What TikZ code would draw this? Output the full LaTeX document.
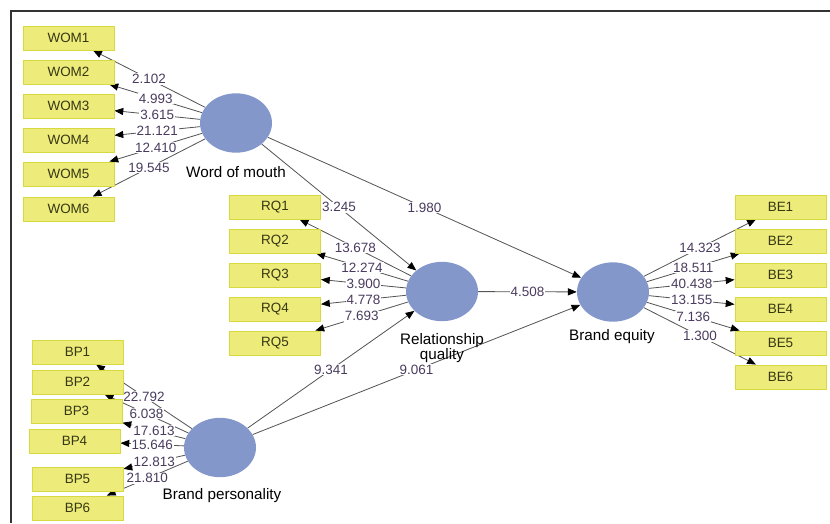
\documentclass[tikz,border=0pt]{standalone}
\usepackage{fontspec}
\setmainfont{Liberation Sans}
\usetikzlibrary{arrows.meta,shapes.geometric,backgrounds}
\definecolor{boxfill}{RGB}{237,236,122}
\definecolor{boxline}{RGB}{216,216,64}
\definecolor{boxtext}{RGB}{55,55,20}
\definecolor{latent}{RGB}{132,151,203}
\definecolor{coef}{RGB}{74,59,94}
\definecolor{edgegray}{RGB}{85,85,85}
\tikzset{
    item/.style={draw=boxline, fill=boxfill, line width=0.8pt, minimum width=2.73cm,
                 minimum height=0.72cm, inner sep=0pt, text=boxtext,
                 font=\fontsize{11.5}{12}\selectfont},
    construct/.style={ellipse, fill=latent, minimum width=2.16cm,
                      minimum height=1.78cm, inner sep=0pt},
    link/.style={-{Triangle[length=7.5pt,width=6pt,color=black]}, line width=0.7pt,
                 draw=edgegray},
    value/.style={fill=white, text=coef, inner sep=0.8pt,
                  font=\fontsize{11.5}{12}\selectfont},
    cname/.style={font=\fontsize{13}{10.5}\selectfont, align=center},
    frame/.style={line width=1.2pt, draw=black!80},
}
\begin{document}
\begin{tikzpicture}[x=0.03cm, y=-0.03cm]
    \useasboundingbox (0,0) rectangle (830,523);
    \draw[frame] (11,523) -- (11,11) -- (830,11);

    % constructs
    \node[construct] (wom) at (236,123) {};
    \node[construct] (rq) at (442,291.5) {};
    \node[construct] (be) at (613,292) {};
    \node[construct] (bp) at (220,447.5) {};
    \node[cname] (womname) at (236,172) {Word of mouth};
    \node[cname] (rqname) at (442,348) {Relationship\\quality};
    \node[cname] (bename) at (612,337) {Brand equity};
    \node[cname] (bpname) at (222,496) {Brand personality};

    % indicators
    \node[item] (wom1) at (68.5,38) {WOM1};
    \node[item] (wom2) at (68.5,72) {WOM2};
    \node[item] (wom3) at (68.5,106) {WOM3};
    \node[item] (wom4) at (68.5,140) {WOM4};
    \node[item] (wom5) at (68.5,174) {WOM5};
    \node[item] (wom6) at (68.5,209) {WOM6};

    \node[item] (rq1) at (275,207) {RQ1};
    \node[item] (rq2) at (275,241) {RQ2};
    \node[item] (rq3) at (275,275) {RQ3};
    \node[item] (rq4) at (275,309) {RQ4};
    \node[item] (rq5) at (275,343) {RQ5};

    \node[item] (be1) at (780.5,207) {BE1};
    \node[item] (be2) at (780.5,241) {BE2};
    \node[item] (be3) at (780.5,275) {BE3};
    \node[item] (be4) at (780.5,309) {BE4};
    \node[item] (be5) at (780.5,343) {BE5};
    \node[item] (be6) at (780.5,377) {BE6};

    \node[item] (bp1) at (77.5,352) {BP1};
    \node[item] (bp2) at (77.5,382) {BP2};
    \node[item] (bp3) at (76.5,411) {BP3};
    \node[item] (bp4) at (74.5,441) {BP4};
    \node[item] (bp5) at (77.5,479) {BP5};
    \node[item] (bp6) at (77.5,508) {BP6};

    \begin{scope}[on background layer]
    % loadings
    \draw[link] (wom) -- node[value] {2.102} (wom1);
    \draw[link] (wom) -- node[value] {4.993} (wom2);
    \draw[link] (wom) -- node[value] {3.615} (wom3);
    \draw[link] (wom) -- node[value] {21.121} (wom4);
    \draw[link] (wom) -- node[value] {12.410} (wom5);
    \draw[link] (wom) -- node[value] {19.545} (wom6);

    \draw[link] (rq) -- node[value] {13.678} (rq1);
    \draw[link] (rq) -- node[value] {12.274} (rq2);
    \draw[link] (rq) -- node[value] {3.900} (rq3);
    \draw[link] (rq) -- node[value] {4.778} (rq4);
    \draw[link] (rq) -- node[value] {7.693} (rq5);

    \draw[link] (be) -- node[value] {14.323} (be1);
    \draw[link] (be) -- node[value] {18.511} (be2);
    \draw[link] (be) -- node[value] {40.438} (be3);
    \draw[link] (be) -- node[value] {13.155} (be4);
    \draw[link] (be) -- node[value] {7.136} (be5);
    \draw[link] (be) -- node[value] {1.300} (be6);

    \draw[link] (bp) -- node[value] {22.792} (bp1);
    \draw[link] (bp) -- node[value] {6.038} (bp2);
    \draw[link] (bp) -- node[value] {17.613} (bp3);
    \draw[link] (bp) -- node[value] {15.646} (bp4);
    \draw[link] (bp) -- node[value] {12.813} (bp5);
    \draw[link] (bp) -- node[value] {21.810} (bp6);

    % paths
    \draw[link] (wom) -- node[value] {3.245} (rq);
    \draw[link] (wom) -- node[value] {1.980} (be);
    \draw[link] (rq) -- node[value] {4.508} (be);
    \draw[link] (bp) -- node[value] {9.341} (rq);
    \draw[link] (bp) -- node[value] {9.061} (be);
    \end{scope}

\end{tikzpicture}
\end{document}
